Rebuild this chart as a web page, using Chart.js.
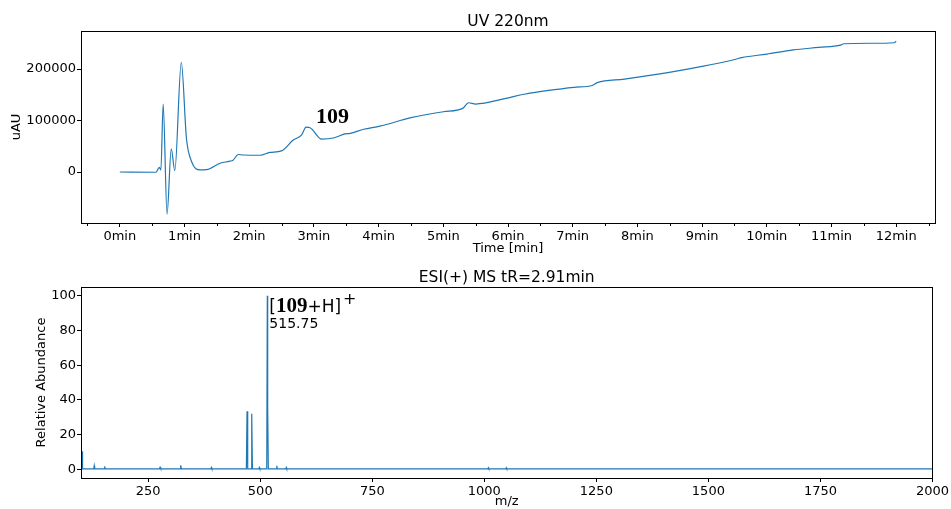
<!DOCTYPE html>
<html>
<head>
<meta charset="utf-8">
<title>UV 220nm / ESI(+) MS</title>
<script src="https://cdn.jsdelivr.net/npm/chart.js@4.4.1/dist/chart.umd.min.js"></script>
<style>
  html, body { margin: 0; padding: 0; background: #fff; }
  #wrap { position: relative; width: 951px; height: 509px; }
  .panel { position: absolute; left: 0; width: 951px; }
  #uv-panel { top: 0; height: 258px; }
  #ms-panel { top: 258px; height: 251px; }
</style>
</head>
<body>
<div id="wrap">
  <div class="panel" id="uv-panel"><canvas id="chart-uv"></canvas></div>
  <div class="panel" id="ms-panel"><canvas id="chart-ms"></canvas></div>
</div>
<script>
// UV trace at 220 nm (time in min, signal in uAU)
const uvTime = [0, 0.56, 0.61, 0.635, 0.67, 0.73, 0.795, 0.85, 0.95, 1.03, 1.11, 1.24, 1.34, 1.55,
  1.70, 1.75, 1.83, 1.91, 2.17, 2.32, 2.50, 2.68, 2.81, 2.88, 2.94, 3.12, 3.30, 3.48, 3.56, 3.77,
  4.02, 4.50, 5.0, 5.30, 5.39, 5.50, 5.97, 6.25, 6.6, 7.02, 7.30, 7.38, 7.8, 8.47, 9.0, 9.52, 9.61,
  10.0, 10.41, 10.8, 11.14, 11.19, 11.6, 11.97, 12.0];
const uvSignal = [0, -500, 9000, 4000, 132000, -82000, 45000, 2500, 213000, 65000, 20000, 4000,
  4500, 17000, 21000, 23000, 34000, 33000, 32500, 38000, 41000, 62000, 72000, 87000, 86000,
  64000, 66000, 74000, 75000, 83000, 89000, 105500, 117000, 123500, 134500, 132000, 143000,
  151000, 158000, 164500, 168000, 173500, 180500, 193000, 205000, 219000, 222000, 229000, 237000,
  242000, 246500, 249000, 250000, 251000, 254000];
const uvTimeTicks = [0, 1, 2, 3, 4, 5, 6, 7, 8, 9, 10, 11, 12];
const uvMinorTicks = [-0.5, 0.5, 1.5, 2.5, 3.5, 4.5, 5.5, 6.5, 7.5, 8.5, 9.5, 10.5, 11.5, 12.5];
const uvSignalTicks = [0, 100000, 200000];
const uvPeak = { label: '109', time: 2.91, signal: 87000 };

// mass spectrum at tR = 2.91 min
const msMz = [100, 102.5, 103.5, 128.5, 129.5, 130.5, 152, 153, 154, 275, 276.5, 278, 321, 322.5,
  324, 390, 391, 392, 469, 470.5, 472, 479.5, 481, 482.5, 497, 498, 499, 514.5, 515.75, 516.4,
  516.75, 518, 536, 537, 538, 557, 558, 559, 1008, 1009, 1010, 1048, 1049, 1050, 2000];
const msAbundance = [0.4, 10.4, 0.3, 0.3, 2.1, 0.3, 0.3, 1.7, 0.3, 0.3, 1.2, 0.3, 0.3, 2.3,
  0.3, 0.3, 1, 0.3, 0.3, 33.5, 0.3, 0.3, 32, 0.3, 0.3, 1, 0.3, 0.3, 100, 28,
  35, 0.3, 0.3, 2, 0.3, 0.3, 1, 0.3, 0.3, 0.9, 0.3, 0.3, 0.9, 0.3, 0.3];
const msMzTicks = [250, 500, 750, 1000, 1250, 1500, 1750, 2000];
const msAbundanceTicks = [0, 20, 40, 60, 80, 100];
const msPeak = { label: '109', mz: 515.75, abundance: 100 };

const LINE = '#1f77b4';
const SANS = '"DejaVu Sans", sans-serif';

function points(xs, ys) {
    return xs.map((x, i) => ({ x: x, y: ys[i] }));
}

// box round the plot area, minor ticks, titles and peak labels
const framePlugin = {
    id: 'frame',
    afterDraw(chart, args, opts) {
        const { ctx, chartArea: a } = chart;
        ctx.save();
        ctx.strokeStyle = '#000';
        ctx.lineWidth = 1;
        const l = Math.round(a.left) + 0.5, t = Math.round(a.top) + 0.5;
        const r = Math.round(a.right) + 0.5, b = Math.round(a.bottom) + 0.5;
        ctx.strokeRect(l, t, r - l, b - t);

        if (opts.minorTicks) {
            const xs = chart.scales.x;
            opts.minorTicks.forEach(v => {
                const px = Math.round(xs.getPixelForValue(v)) + 0.5;
                ctx.beginPath();
                ctx.moveTo(px, b);
                ctx.lineTo(px, b + 2.5);
                ctx.stroke();
            });
        }

        ctx.fillStyle = '#000';
        ctx.font = '15.5px ' + SANS;
        ctx.textAlign = 'center';
        ctx.textBaseline = 'alphabetic';
        ctx.fillText(opts.title, (a.left + a.right) / 2, a.top - 5);

        if (opts.drawLabels) opts.drawLabels(chart, ctx);
        ctx.restore();
    }
};

function labelUvPeak(chart, ctx) {
    const x = chart.scales.x.getPixelForValue(uvPeak.time) + 8;
    const y = chart.scales.y.getPixelForValue(uvPeak.signal) - 4;
    ctx.textAlign = 'left';
    ctx.font = 'bold 22px "Liberation Serif", serif';
    ctx.fillText(uvPeak.label, x, y);
}

function labelMsPeak(chart, ctx) {
    let x = chart.scales.x.getPixelForValue(msPeak.mz) + 2;
    const y = chart.scales.y.getPixelForValue(msPeak.abundance);
    ctx.textAlign = 'left';
    const parts = [
        { text: '[', font: '17px ' + SANS, dy: 16 },
        { text: msPeak.label, font: 'bold 21px "Liberation Serif", serif', dy: 16 },
        { text: '+H]', font: '17px ' + SANS, dy: 16 },
        { text: '+', font: '16px ' + SANS, dy: 8 }
    ];
    parts.forEach(p => {
        ctx.font = p.font;
        ctx.fillText(p.text, x, y + p.dy);
        x += ctx.measureText(p.text).width + (p.text === '+H]' ? 2 : 0);
    });
    ctx.font = '14px ' + SANS;
    ctx.fillText(msPeak.mz.toFixed(2), chart.scales.x.getPixelForValue(msPeak.mz) + 2, y + 32);
}

function axisTicks(values) {
    return (scale) => { scale.ticks = values.map(v => ({ value: v })); };
}

function tickFont() {
    return { family: SANS, size: 13 };
}

function createUvChart(id) {
    const ctx = document.getElementById(id);
    const config = {
        type: 'line',
        data: {
            datasets: [{
                data: points(uvTime, uvSignal),
                borderColor: LINE,
                borderWidth: 1.2,
                pointRadius: 0,
                fill: false,
                cubicInterpolationMode: 'monotone'
            }]
        },
        options: {
            responsive: true,
            maintainAspectRatio: false,
            animation: false,
            layout: { padding: { top: 31, right: 16, left: 0, bottom: 0 } },
            plugins: {
                legend: { display: false },
                tooltip: { enabled: false },
                frame: { title: 'UV 220nm', minorTicks: uvMinorTicks, drawLabels: labelUvPeak }
            },
            scales: {
                x: {
                    type: 'linear',
                    min: -0.6,
                    max: 12.6,
                    afterBuildTicks: axisTicks(uvTimeTicks),
                    afterFit: (scale) => { scale.height = 35; },
                    border: { display: false },
                    grid: { drawOnChartArea: false, tickLength: 4, tickColor: '#000' },
                    ticks: {
                        autoSkip: false, maxRotation: 0, padding: 2, color: '#000', font: tickFont(),
                        callback: (value) => value + 'min'
                    },
                    title: {
                        display: true, text: 'Time [min]', color: '#000',
                        font: { family: SANS, size: 13 }, padding: { top: 0, bottom: 2 }
                    }
                },
                y: {
                    min: -99000,
                    max: 273800,
                    afterBuildTicks: axisTicks(uvSignalTicks),
                    afterFit: (scale) => { scale.width = 81; },
                    border: { display: false },
                    grid: { drawOnChartArea: false, tickLength: 4, tickColor: '#000' },
                    ticks: {
                        autoSkip: false, padding: 1, color: '#000', font: tickFont(),
                        callback: (value) => String(value)
                    },
                    title: {
                        display: true, text: 'uAU', color: '#000',
                        font: { family: SANS, size: 13 }, padding: { top: 9, bottom: 0 }
                    }
                }
            }
        },
        plugins: [framePlugin]
    };
    new Chart(ctx, config);
}

function createMsChart(id) {
    const ctx = document.getElementById(id);
    const config = {
        type: 'line',
        data: {
            datasets: [{
                data: points(msMz, msAbundance),
                borderColor: LINE,
                borderWidth: 1.2,
                pointRadius: 0,
                fill: false,
                tension: 0
            }]
        },
        options: {
            responsive: true,
            maintainAspectRatio: false,
            animation: false,
            layout: { padding: { top: 29, right: 16, left: 0, bottom: 0 } },
            plugins: {
                legend: { display: false },
                tooltip: { enabled: false },
                frame: { title: 'ESI(+) MS tR=2.91min', drawLabels: labelMsPeak }
            },
            scales: {
                x: {
                    type: 'linear',
                    min: 100,
                    max: 2000,
                    afterBuildTicks: axisTicks(msMzTicks),
                    afterFit: (scale) => { scale.height = 31; },
                    border: { display: false },
                    grid: { drawOnChartArea: false, tickLength: 4, tickColor: '#000' },
                    ticks: {
                        autoSkip: false, maxRotation: 0, padding: 2, color: '#000', font: tickFont(),
                        callback: (value) => String(value)
                    },
                    title: {
                        display: true, text: 'm/z', color: '#000',
                        font: { family: SANS, size: 13 }, padding: { top: 0, bottom: 0 }
                    }
                },
                y: {
                    min: -5,
                    max: 105,
                    afterBuildTicks: axisTicks(msAbundanceTicks),
                    afterFit: (scale) => { scale.width = 81; },
                    border: { display: false },
                    grid: { drawOnChartArea: false, tickLength: 4, tickColor: '#000' },
                    ticks: {
                        autoSkip: false, padding: 1, color: '#000', font: tickFont(),
                        callback: (value) => String(value)
                    },
                    title: {
                        display: true, text: 'Relative Abundance', color: '#000',
                        font: { family: SANS, size: 13 }, padding: { top: 34, bottom: 0 }
                    }
                }
            }
        },
        plugins: [framePlugin]
    };
    new Chart(ctx, config);
}

document.addEventListener('DOMContentLoaded', () => {
    createUvChart('chart-uv');
    createMsChart('chart-ms');
});
</script>
</body>
</html>
